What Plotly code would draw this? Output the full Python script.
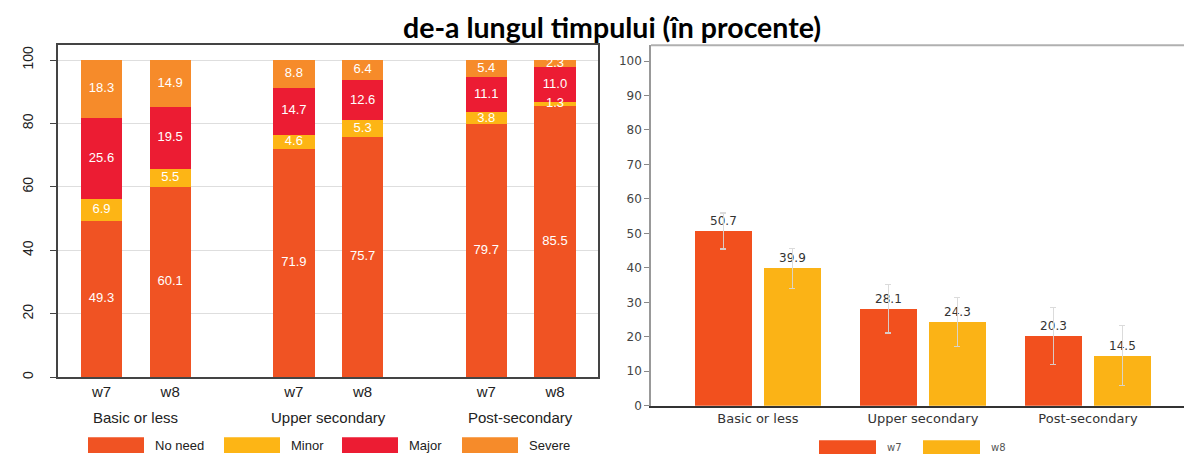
import plotly.graph_objects as go

W, H = 1184, 461

# ---------------- data ----------------
groups = ["Basic or less", "Upper secondary", "Post-secondary"]
waves = ["w7", "w8"]

series_names = ["No need", "Minor", "Major", "Severe"]
no_need = [49.3, 60.1, 71.9, 75.7, 79.7, 85.5]
minor = [6.9, 5.5, 4.6, 5.3, 3.8, 1.3]
major = [25.6, 19.5, 14.7, 12.6, 11.1, 11.0]
severe = [18.3, 14.9, 8.8, 6.4, 5.4, 2.3]

w7_vals = [50.7, 28.1, 20.3]
w8_vals = [39.9, 24.3, 14.5]
w7_err = [5.2, 7.0, 8.3]
w8_err = [5.8, 7.2, 8.7]

title = "de-a lungul timpului (în procente)"

# ---------------- styles ----------------
stack_colors = ["#F05323", "#FDB515", "#EC1C33", "#F68B2A"]
wave_colors = ["#F2501E", "#FBB316"]
LFONT = "Liberation Sans, Arial, sans-serif"
RFONT = "DejaVu Sans, Verdana, sans-serif"

def px_x(p):
    return p / W

def px_y(p):
    return 1 - p / H

fig = go.Figure()

# ---------------- left stacked chart ----------------
GROUP_STEP = 2.8
xl = [g * GROUP_STEP + w for g in range(len(groups)) for w in range(len(waves))]
stack_series = [no_need, minor, major, severe]

base = [0.0] * len(xl)
label_x, label_y, label_t = [], [], []
for name, vals, col in zip(series_names, stack_series, stack_colors):
    fig.add_trace(go.Bar(
        x=xl, y=vals, width=0.6, name=name, marker=dict(color=col, line=dict(width=0)),
        xaxis="x", yaxis="y", showlegend=False, hoverinfo="skip"))
    for i, v in enumerate(vals):
        label_x.append(xl[i])
        label_y.append(base[i] + v / 2)
        label_t.append(f"{v:.1f}")
        base[i] += v

fig.add_trace(go.Scatter(
    x=label_x, y=label_y, text=label_t, mode="text",
    textfont=dict(color="white", size=13, family=LFONT),
    xaxis="x", yaxis="y", showlegend=False, hoverinfo="skip", cliponaxis=False))

# ---------------- right grouped chart ----------------
OFF = 0.209
for wi, (vals, errs, col) in enumerate(zip([w7_vals, w8_vals], [w7_err, w8_err], wave_colors)):
    xr = [g + (wi - 0.5) * 2 * OFF for g in range(len(groups))]
    fig.add_trace(go.Bar(
        x=xr, y=vals, width=0.345, name=waves[wi],
        marker=dict(color=col, line=dict(width=0)),
        error_y=dict(type="data", array=errs, color="rgba(215,215,215,0.9)", thickness=1.3, width=3),
        text=[f"{v:.1f}" for v in vals], textposition="outside",
        textfont=dict(color="#333333", size=12, family=RFONT),
        cliponaxis=False, xaxis="x2", yaxis="y2", showlegend=False, hoverinfo="skip"))

shapes = []
annotations = []

# left legend
leg_x0 = [88, 224, 342, 462]
for x0, name, col in zip(leg_x0, series_names, stack_colors):
    shapes.append(dict(type="rect", xref="paper", yref="paper",
                       x0=px_x(x0), x1=px_x(x0 + 56), y0=px_y(460), y1=px_y(444),
                       fillcolor=col, line=dict(width=0)))
    annotations.append(dict(x=px_x(x0 + 65), y=px_y(452), xref="paper", yref="paper",
                            text=name, showarrow=False, xanchor="left", yanchor="middle",
                            font=dict(size=13, family=LFONT, color="#222")))

# left group labels
for g, name in enumerate(groups):
    annotations.append(dict(x=g * GROUP_STEP + 0.5, y=px_y(424), xref="x", yref="paper",
                            text=name, showarrow=False, xanchor="center", yanchor="middle",
                            font=dict(size=15, family=LFONT, color="#222")))

# right legend
rleg_x0 = [819, 923]
for x0, name, col in zip(rleg_x0, waves, wave_colors):
    shapes.append(dict(type="rect", xref="paper", yref="paper",
                       x0=px_x(x0), x1=px_x(x0 + 57), y0=0, y1=px_y(447),
                       fillcolor=col, line=dict(width=0)))
    annotations.append(dict(x=px_x(x0 + 66), y=px_y(454), xref="paper", yref="paper",
                            text=name, showarrow=False, xanchor="left", yanchor="middle",
                            font=dict(size=10, family=RFONT, color="#555")))

# right top border
shapes.append(dict(type="line", xref="paper", yref="paper",
                   x0=px_x(651), x1=1, y0=px_y(46), y1=px_y(46),
                   line=dict(color="#b0b0b0", width=2)))

# title
annotations.append(dict(x=px_x(611.5), y=px_y(27), xref="paper", yref="paper",
                        text=f"<b>{title}</b>", showarrow=False, xanchor="center", yanchor="middle",
                        font=dict(size=28.5, family="Lato, Open Sans, sans-serif", color="#000")))

fig.update_layout(
    width=W, height=H, margin=dict(l=0, r=0, t=0, b=0),
    paper_bgcolor="white", plot_bgcolor="white",
    barmode="stack", showlegend=False,
    shapes=shapes, annotations=annotations,
    xaxis=dict(domain=[px_x(58), px_x(598)], range=[-0.633, 7.226], anchor="y",
               tickvals=xl, ticktext=waves * len(groups), ticks="",
               showline=True, mirror=True, linecolor="#444", linewidth=1.5,
               showgrid=False, zeroline=False, ticklabelstandoff=0,
               tickfont=dict(size=15, family=LFONT, color="#222")),
    yaxis=dict(domain=[px_y(383), px_y(45.5)], range=[0, 104.8], anchor="x",
               tickvals=[0, 20, 40, 60, 80, 100], tickangle=-90,
               ticks="outside", ticklen=6, tickcolor="#444", tickwidth=1,
               showgrid=True, gridcolor="#dedede", gridwidth=1, zeroline=False,
               showline=True, mirror=True, linecolor="#444", linewidth=1.5,
               ticklabelstandoff=12,
               tickfont=dict(size=14, family=LFONT, color="#222")),
    xaxis2=dict(domain=[px_x(651), 1], range=[-0.648, 2.582], anchor="y2",
                tickvals=list(range(len(groups))), ticktext=groups, ticks="",
                showline=True, linecolor="#333", linewidth=2,
                showgrid=False, zeroline=False, ticklabelstandoff=0,
                tickfont=dict(size=13, family=RFONT, color="#333")),
    yaxis2=dict(domain=[px_y(412), px_y(46)], range=[0, 104.57], anchor="x2",
                tickvals=list(range(0, 101, 10)),
                ticks="outside", ticklen=5, tickcolor="#888",
                showline=True, linecolor="#999", linewidth=1.5,
                showgrid=False, zeroline=False,
                tickfont=dict(size=12, family=RFONT, color="#444")),
)

fig.write_html("out.html", config={"displayModeBar": False},
               post_script="document.body.style.margin='0';document.body.style.overflow='hidden';")
